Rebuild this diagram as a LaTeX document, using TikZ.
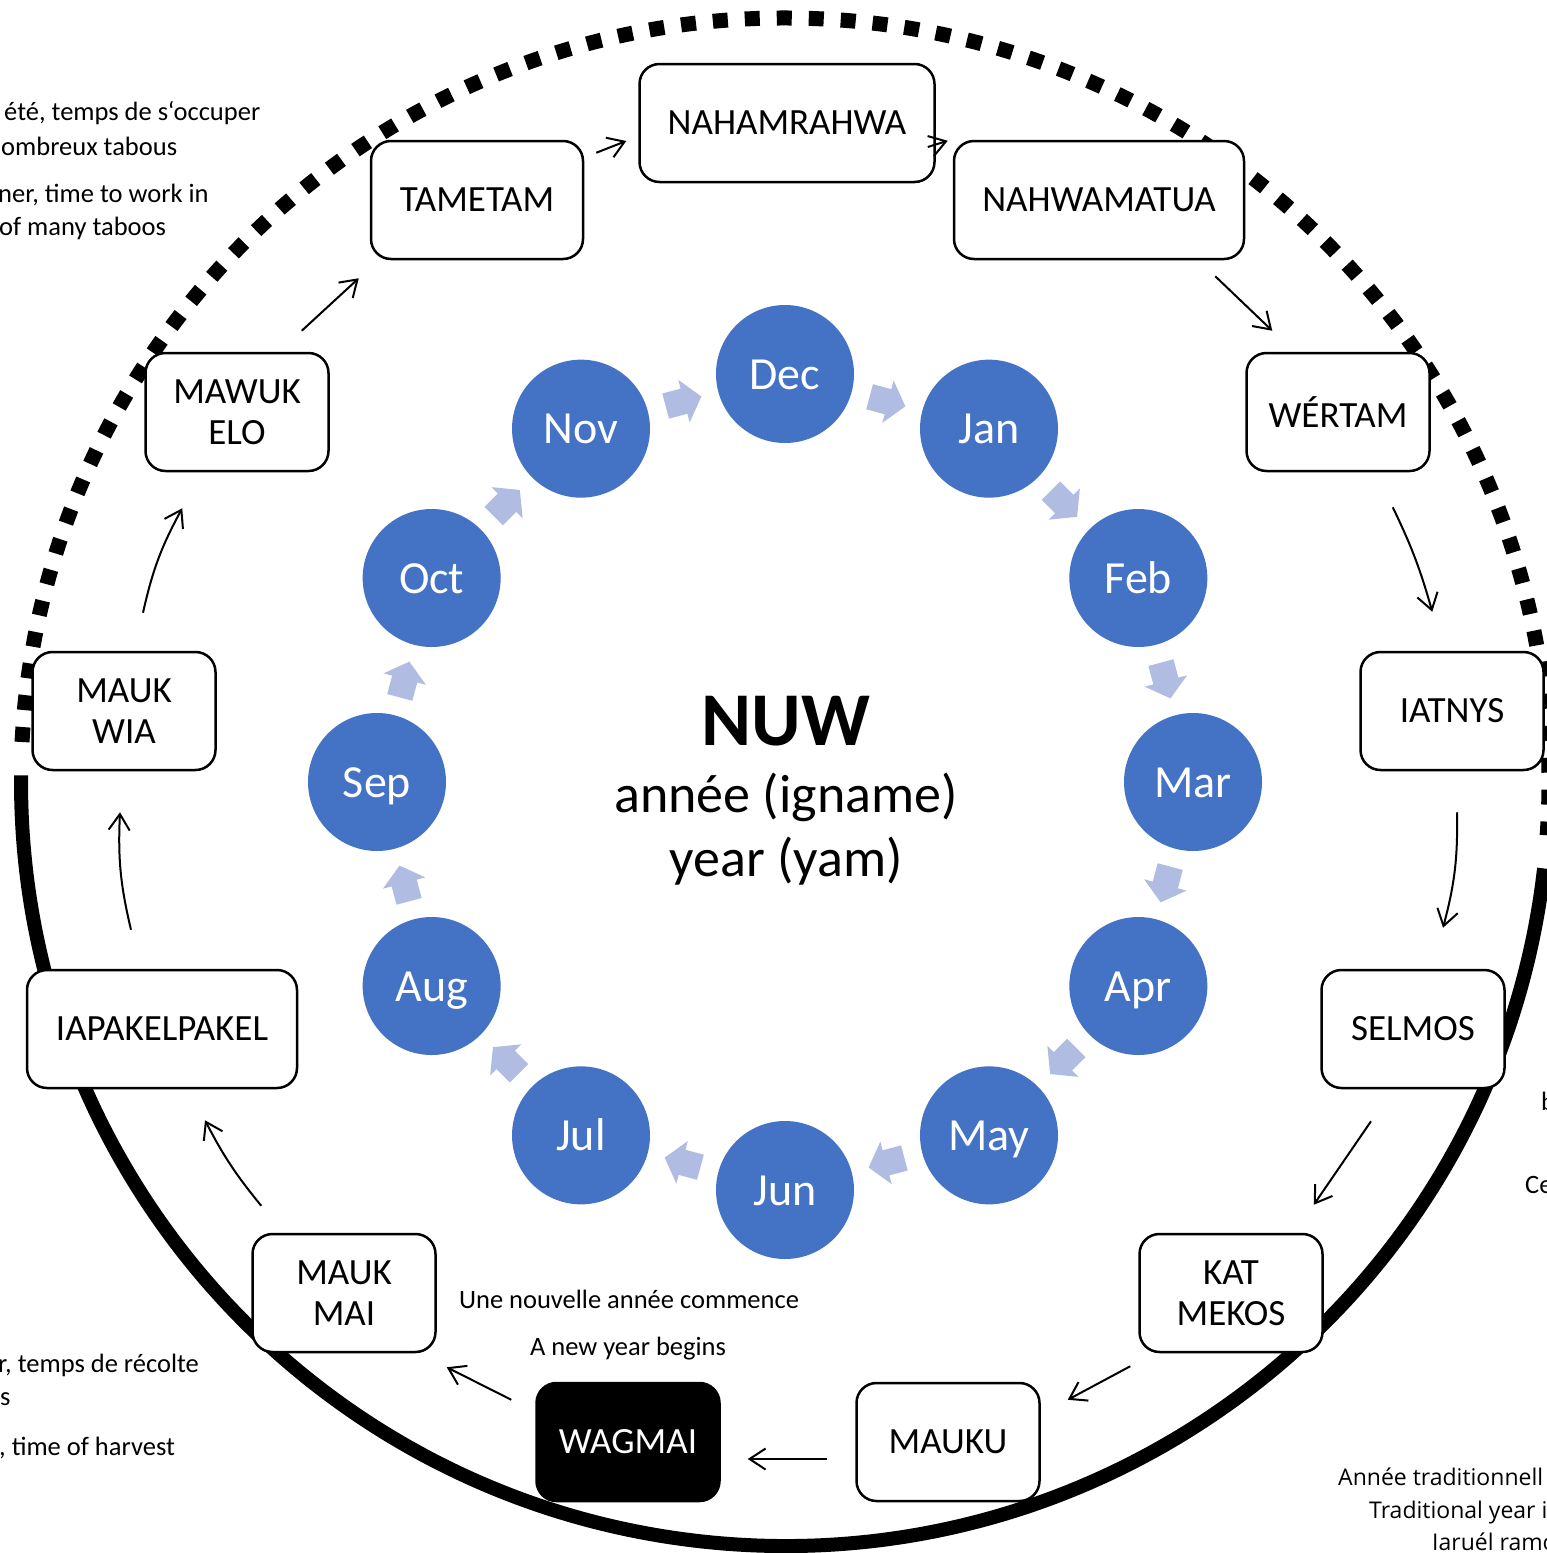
\documentclass[tikz,border=0pt]{standalone}
\usepackage{fontspec}
\setmainfont{Carlito}
\newfontfamily\widefont{Open Sans}
\usetikzlibrary{arrows.meta}
\definecolor{monthblue}{HTML}{4472C4}
\definecolor{monthflow}{RGB}{176,188,225}

\begin{document}
\begin{tikzpicture}[x=1pt,y=1pt,
  season/.style={draw=black,line width=2.5pt,fill=white,rounded corners=20pt,minimum height=118pt,minimum width=183pt,align=center,inner sep=0pt,font=\fontsize{37}{41}\selectfont},
  month/.style={circle,fill=monthblue,minimum size=138pt,inner sep=0pt,text=white,text height=30pt,text depth=0pt,font=\fontsize{46}{46}\selectfont},
  flow/.style={line width=2pt,-{Straight Barb[length=16pt,width=21pt]}},
  note/.style={anchor=base west,inner sep=0pt,font=\fontsize{26.5}{26.5}\selectfont}]
\useasboundingbox (0,0) rectangle (1547,-1553);
\clip (0,0) rectangle (1547,-1553);

% the year: dotted half, solid half
\draw[line width=15pt,dash pattern=on 15pt off 17pt] (785,-782) ++(177:764) arc[start angle=177,end angle=-4,radius=764];
\draw[line width=14pt] (785,-782) ++(-6.5:764) arc[start angle=-6.5,end angle=-180.5,radius=764];

% months
\begin{scope}[shift={(785,-782)}]
\foreach \m [count=\k from 0] in {Dec,Jan,Feb,Mar,Apr,May,Jun,Jul,Aug,Sep,Oct,Nov}
  \node[month] (m\m) at ({90-30*\k}:408) {\m};
\foreach \a in {75,45,...,-255}
  \fill[monthflow,shift={(\a:394)},rotate=\a-90] (-18,-13) -- (1,-13) -- (1,-22) -- (19,0) -- (1,22) -- (1,13) -- (-18,13) -- cycle;
\end{scope}

\node[font=\fontsize{76}{76}\selectfont\bfseries,anchor=base] (nuw) at (786,-745) {NUW};
\node[font=\fontsize{54}{54}\selectfont,anchor=base] (annee) at (786,-812) {année (igname)};
\node[font=\fontsize{54}{54}\selectfont,anchor=base] (yam) at (786,-876) {year (yam)};

% seasons
\node[season,minimum width=212pt] (tametam) at (477,-200) {TAMETAM};
\node[season,minimum width=295pt] (nahamrahwa) at (787,-123) {NAHAMRAHWA};
\node[season,minimum width=290pt] (nahwamatua) at (1099,-200) {NAHWAMATUA};
\node[season] (wertam) at (1338,-412) {WÉRTAM};
\node[season] (iatnys) at (1452,-711) {IATNYS};
\node[season] (selmos) at (1413,-1029) {SELMOS};
\node[season] (katmekos) at (1231,-1293) {KAT\\MEKOS};
\node[season] (mauku) at (948,-1442) {MAUKU};
\node[season,fill=black,text=white] (wagmai) at (628,-1442) {WAGMAI};
\node[season] (maukmai) at (344,-1293) {MAUK\\MAI};
\node[season,minimum width=270pt] (iapakel) at (162,-1029) {IAPAKELPAKEL};
\node[season] (maukwia) at (124,-711) {MAUK\\WIA};
\node[season] (mawukelo) at (237,-412) {MAWUK\\ELO};

\draw[flow] ([shift={(12,-13)}]tametam.north east) -- ([shift={(-12,-18)}]nahamrahwa.west);
\draw[flow] ([shift={(-8,-24)}]nahamrahwa.east) -- ([shift={(-5,-1)}]nahwamatua.north west);
\draw[flow] ([shift={(-30,-16)}]nahwamatua.south east) -- ([shift={(27,21)}]wertam.north west);
\draw[flow] ([shift={(-38,-35)}]wertam.south east) to[bend left=5] ([shift={(73,39)}]iatnys.north west);
\draw[flow] ([shift={(5,-41)}]iatnys.south) to[bend left=8] ([shift={(30,41)}]selmos.north);
\draw[flow] ([shift={(-42,-32)}]selmos.south) -- ([shift={(-10,28)}]katmekos.north east);
\draw[flow] ([shift={(-8,-13)}]katmekos.south west) -- ([shift={(27,-18)}]mauku.north east);
\draw[flow] ([shift={(-28,-17)}]mauku.west) -- ([shift={(27,-17)}]wagmai.east);
\draw[flow] ([shift={(-24,-18)}]wagmai.north west) -- ([shift={(10,-14)}]maukmai.south east);
\draw[flow] ([shift={(10,27)}]maukmai.north west) to[bend left=6] ([shift={(43,-31)}]iapakel.south);
\draw[flow] ([shift={(-31,39)}]iapakel.north) to[bend left=8] ([shift={(-4,-41)}]maukwia.south);
\draw[flow] ([shift={(19,38)}]maukwia.north) to[bend left=8] ([shift={(38,-36)}]mawukelo.south west);
\draw[flow] ([shift={(-28,21)}]mawukelo.north east) -- ([shift={(-11,-18)}]tametam.south west);

% notes
\node[note] (summer1) at (4,-120) {été, temps de s‘occuper};
\node[note] (summer2) at (1,-155) {ombreux tabous};
\node[note] (summer3) at (-2,-202) {ner, time to work in};
\node[note] (summer4) at (-1,-235) {of many taboos};
\node[note] (harvest1) at (-2,-1372) {r, temps de récolte};
\node[note] (harvest2) at (0,-1405) {s};
\node[note] (harvest3) at (-1,-1455) {, time of harvest};
\node[note,anchor=base] (newyear1) at (629,-1308) {Une nouvelle année commence};
\node[note,anchor=base] (newyear2) at (628,-1355) {A new year begins};
\node[note] (edge1) at (1541,-1110) {b};
\node[note] (edge2) at (1525,-1193) {Ce};
\node[note,font=\widefont\fontsize{23}{23}\selectfont] (trad1) at (1338,-1485) {Année traditionnell};
\node[note,font=\widefont\fontsize{23}{23}\selectfont] (trad2) at (1369,-1518) {Traditional year i};
\node[note,font=\widefont\fontsize{23}{23}\selectfont] (trad3) at (1432,-1550) {Iaruél ramo};
\end{tikzpicture}
\end{document}
